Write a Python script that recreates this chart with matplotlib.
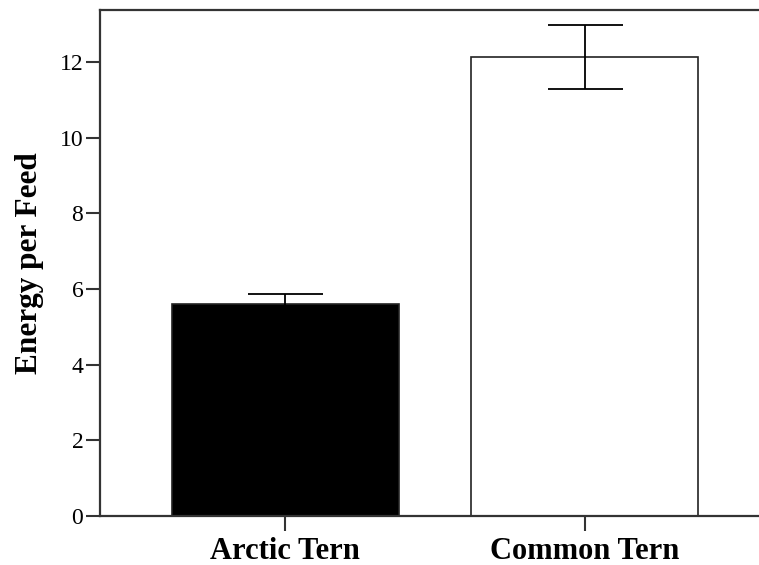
import matplotlib
matplotlib.use("Agg")
from matplotlib import pyplot as plt
import numpy as np

# values
species = ["Arctic Tern", "Common Tern"]
energy_mean = [5.6, 12.14]
energy_err = [0.26, 0.84]
bar_colors = ["black", "white"]

plt.rcParams['font.family'] = ['Liberation Serif', 'DejaVu Serif']

fig = plt.figure(figsize=(7.59, 5.65), dpi=100)
ax = fig.add_axes([0.1318, 0.0867, 0.8827, 0.8956])

x = np.arange(len(species))
ax.bar(x, energy_mean, width=0.757, color=bar_colors, edgecolor='#222222',
       linewidth=1.2, zorder=2)
ax.errorbar(x, energy_mean, yerr=energy_err, fmt='none', ecolor='black',
            elinewidth=1.3, capsize=27, capthick=1.3, zorder=3)

ax.set_xlim(-0.617, 1.617)
ax.set_ylim(0, 13.38)
ax.set_yticks([0, 2, 4, 6, 8, 10, 12])
ax.set_xticks(x)
ax.set_xticklabels(species, fontsize=22, fontweight='bold')
ax.tick_params(axis='y', labelsize=17, length=10, width=1.5, pad=2,
               color='#333333')
ax.tick_params(axis='x', length=11, width=1.5, pad=4, color='#333333')
for s in ax.spines.values():
    s.set_linewidth(1.6)
    s.set_color('#333333')

ax.set_ylabel("Energy per Feed", fontsize=22.5, fontweight='bold', labelpad=11)

fig.savefig("out.png", dpi=100)
